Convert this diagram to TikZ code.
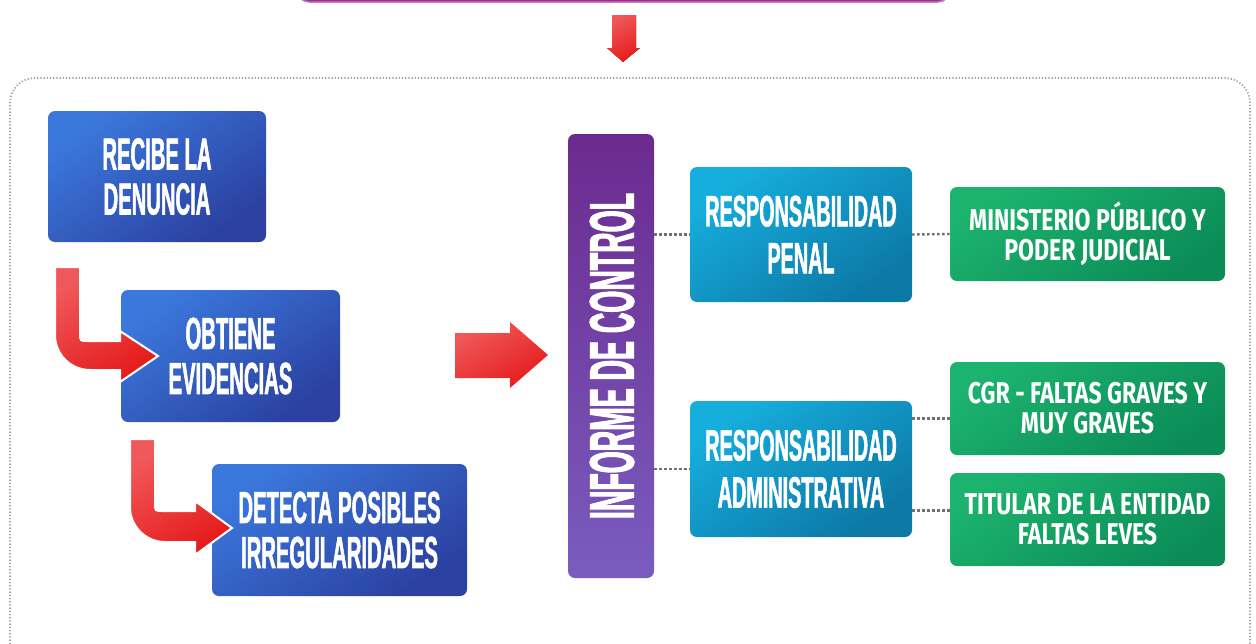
\documentclass[tikz,border=0pt]{standalone}
\usepackage{fontspec}
\setmainfont{Liberation Sans}
\newfontfamily\cond{Liberation Sans}[FakeStretch=0.45,FakeBold=1.2]
\newfontfamily\condB{Liberation Sans}[FakeStretch=0.45,FakeBold=1.5]
\newfontfamily\greenf{Fira Sans}[FakeStretch=0.77]
\definecolor{blueA}{HTML}{3B78DC}
\definecolor{blueB}{HTML}{2B40A0}
\definecolor{tealA}{HTML}{16AEDD}
\definecolor{tealB}{HTML}{0C78A6}
\definecolor{greenA}{HTML}{1CB36E}
\definecolor{greenB}{HTML}{0B8C57}
\definecolor{purA}{HTML}{6B2A8E}
\definecolor{purB}{HTML}{7A5CBF}
\definecolor{redA}{HTML}{F0595B}
\definecolor{redB}{HTML}{E51B1B}
\definecolor{magA}{HTML}{A0298F}
\definecolor{dotgray}{HTML}{A0A0A0}
\tikzset{
  box/.style={rounded corners=7pt, text=white, align=center, inner sep=0pt},
  bluebox/.style={box, top color=blueA, bottom color=blueB, shading angle=35,
     font=\cond\bfseries\fontsize{45}{45}\selectfont},
  tealbox/.style={box, top color=tealA, bottom color=tealB, shading angle=35,
     font=\cond\bfseries\fontsize{44}{47}\selectfont},
  greenbox/.style={box, top color=greenA, bottom color=greenB, shading angle=35,
     font=\greenf\bfseries\fontsize{30}{30}\selectfont},
  redarrow/.style={top color=redA, bottom color=redB, shading angle=30, draw=white, line width=2pt, line join=miter},
  conn/.style={draw=dotgray!70!black, line width=2.4pt, dash pattern=on 2.5pt off 2.5pt}
}
\begin{document}
\begin{tikzpicture}[x=1pt,y=-1pt]
\useasboundingbox (0,0) rectangle (1256,643);
% top purple bar
\fill[magA, rounded corners=12pt, draw=magA!60!white, line width=1.5pt] (297,-30) rectangle (950,2);
% down arrow
\fill[redarrow, draw=none] (612,15) -- (636,15) -- (636,48) -- (640,48) -- (623,62) -- (607,48) -- (612,48) -- cycle;
% container
\draw[dotgray, line width=1.8pt, dash pattern=on 1.2pt off 2pt, rounded corners=25pt] (10,660) -- (10,78) -- (1250,78) -- (1250,660);
% boxes
\node[bluebox, minimum width=218pt, minimum height=131pt] (recibe) at (157,176.5) {RECIBE LA\\DENUNCIA};
\node[bluebox, minimum width=219pt, minimum height=132pt] (obtiene) at (230.5,356) {OBTIENE\\EVIDENCIAS};
\node[bluebox, minimum width=255pt, minimum height=132pt] (detecta) at (339.5,530) {DETECTA POSIBLES\\IRREGULARIDADES};
% L arrows
\path[redarrow] (55,267) -- (80,267) -- (80,333) .. controls (80,341) .. (88,341) -- (120,341) -- (120,331) -- (158,356) -- (120,382) -- (120,370) -- (90,370) .. controls (70.7,370) and (55,354.3) .. (55,335) -- cycle;
\path[redarrow] (130,439) -- (155,439) -- (155,503) .. controls (155,511) .. (163,511) -- (195,511) -- (195,501) -- (232,528) -- (195,555) -- (195,542) -- (165,542) .. controls (145.7,542) and (130,526.3) .. (130,507) -- cycle;
% big right arrow
\path[redarrow, draw=none] (455,333) -- (510,333) -- (510,322) -- (548,355) -- (510,388) -- (510,378) -- (455,378) -- cycle;
% informe
\node[rounded corners=7pt, top color=purA, bottom color=purB, minimum width=86pt, minimum height=444pt, inner sep=0pt] (informe) at (611,356) {};
\node[rotate=90, text=white, font=\condB\bfseries\fontsize{63}{63}\selectfont, inner sep=0pt] (informetxt) at (612,356) {INFORME DE CONTROL};
% teal boxes
\node[tealbox, minimum width=222pt, minimum height=135pt] (penal) at (801,234.5) {RESPONSABILIDAD\\PENAL};
\node[tealbox, minimum width=222pt, minimum height=136pt] (admin) at (801,469) {RESPONSABILIDAD\\ADMINISTRATIVA};
% green boxes
\node[greenbox, minimum width=275pt, minimum height=94pt] (mini) at (1087.5,234) {MINISTERIO PÚBLICO Y\\PODER JUDICIAL};
\node[greenbox, minimum width=275pt, minimum height=93pt] (cgr) at (1087.5,408.5) {CGR - FALTAS GRAVES Y\\MUY GRAVES};
\node[greenbox, minimum width=275pt, minimum height=93pt] (titular) at (1087.5,519.5) {TITULAR DE LA ENTIDAD\\FALTAS LEVES};
% connectors
\coordinate (cgrin) at ([yshift=-10pt]cgr.west);
\coordinate (titin) at ([yshift=9pt]titular.west);
\draw[conn] (informe.east |- penal.west) -- (penal.west);
\draw[conn] (informe.east |- admin.west) -- (admin.west);
\draw[conn] (penal.east) -- (mini.west);
\draw[conn] (admin.east |- cgrin) -- (cgrin);
\draw[conn] (admin.east |- titin) -- (titin);
\end{tikzpicture}
\end{document}
